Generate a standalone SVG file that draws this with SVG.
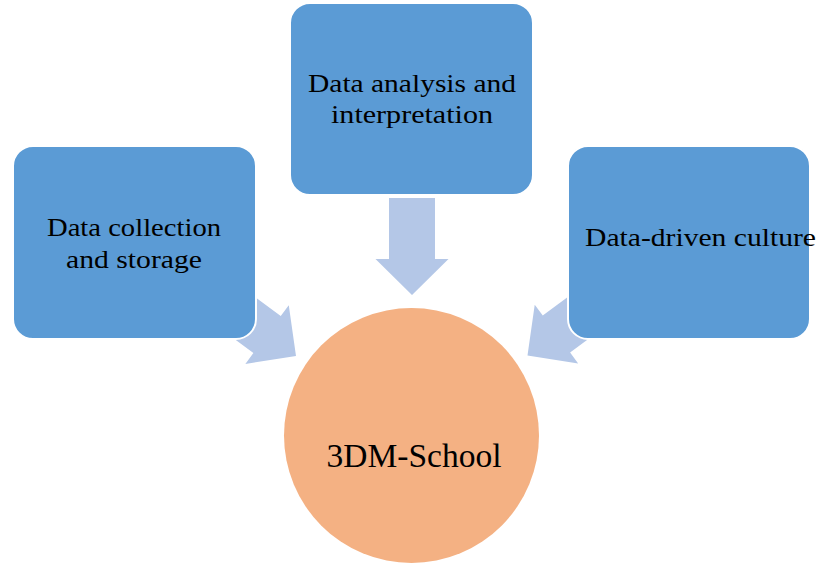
<svg xmlns="http://www.w3.org/2000/svg" width="824" height="569" viewBox="0 0 824 569">
<defs>
<path id="arr" d="M-23,-97 L23,-97 L23,-36 L36.5,-36 L0,0 L-36.5,-36 L-23,-36 Z"/>
</defs>
<style>
.box{fill:#5B9BD5;stroke:#FFFFFF;stroke-width:2}
.arrow{fill:#B4C7E7}
.circ{fill:#F4B183}
text{font-family:"Liberation Serif","Times New Roman",serif;fill:#000000;text-anchor:middle}
.t{font-size:25px}
.tc{font-size:34px}
</style>
<rect width="824" height="569" fill="#FFFFFF"/>
<g id="connectors">
<use href="#arr" class="arrow" transform="translate(412,295)"/>
<use href="#arr" class="arrow" transform="translate(296,356) rotate(-53.5)"/>
<use href="#arr" class="arrow" transform="translate(527.5,355.5) rotate(53.5)"/>
</g>
<g id="node-collection">
<rect class="box" x="13" y="146" width="243" height="193" rx="20" ry="20"/>
<text class="t" x="134" y="236" textLength="174" lengthAdjust="spacingAndGlyphs">Data collection</text>
<text class="t" x="134" y="268" textLength="136" lengthAdjust="spacingAndGlyphs">and storage</text>
</g>
<g id="node-analysis">
<rect class="box" x="290" y="3" width="243" height="192" rx="20" ry="20"/>
<text class="t" x="412" y="92" textLength="208" lengthAdjust="spacingAndGlyphs">Data analysis and</text>
<text class="t" x="412" y="123" textLength="162" lengthAdjust="spacingAndGlyphs">interpretation</text>
</g>
<g id="node-culture">
<rect class="box" x="568" y="146" width="242" height="193" rx="20" ry="20"/>
<text class="t" x="700.5" y="246" textLength="231" lengthAdjust="spacingAndGlyphs">Data-driven culture</text>
</g>
<g id="node-school">
<circle class="circ" cx="411.5" cy="435.5" r="127.5"/>
<text class="tc" x="414" y="467" textLength="175" lengthAdjust="spacingAndGlyphs">3DM-School</text>
</g>
</svg>
